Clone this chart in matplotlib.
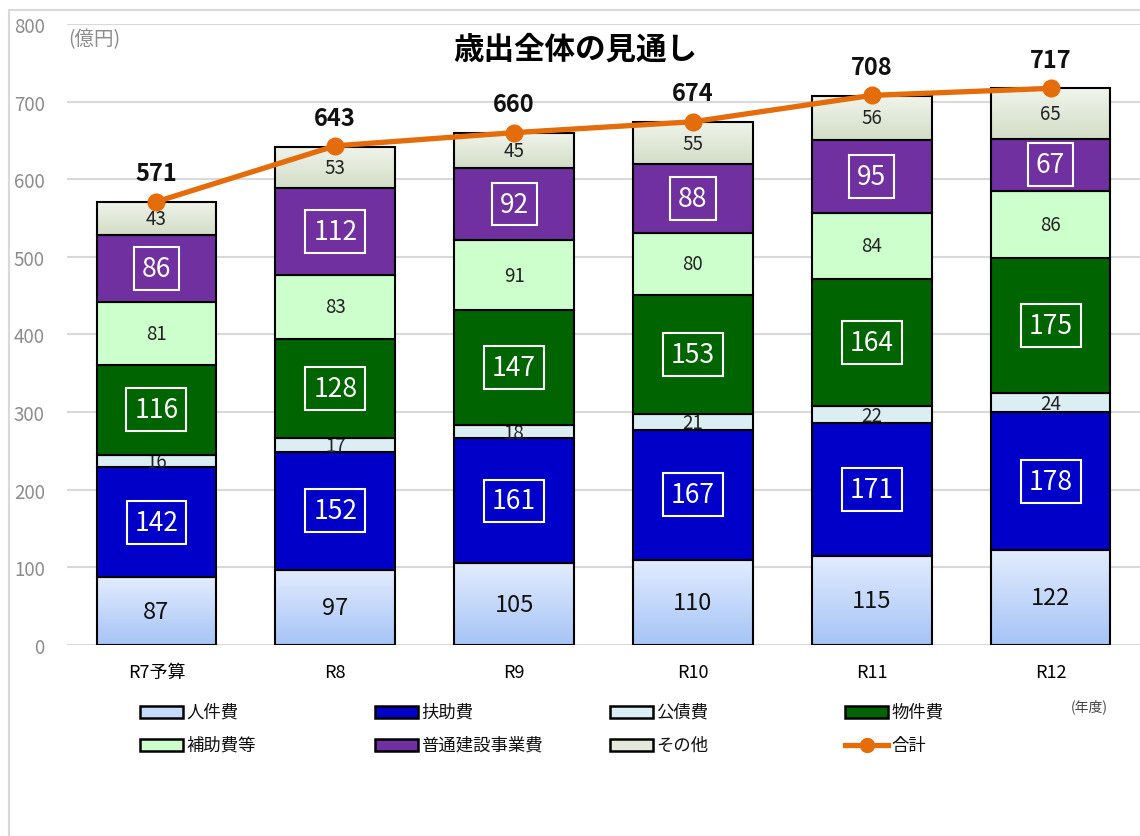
import numpy as np
import matplotlib
matplotlib.use("Agg")
import matplotlib.pyplot as plt
from matplotlib.patches import Rectangle
from matplotlib.colors import LinearSegmentedColormap
from matplotlib.lines import Line2D

plt.rcParams['font.family'] = ['Noto Sans CJK JP', 'DejaVu Sans']

# ---- data (億円) ----
years = ["R7予算", "R8", "R9", "R10", "R11", "R12"]
jinkenhi = [87, 97, 105, 110, 115, 122]          # 人件費
fujohi = [142, 152, 161, 167, 171, 178]          # 扶助費
kousaihi = [16, 17, 18, 21, 22, 24]              # 公債費
bukkenhi = [116, 128, 147, 153, 164, 175]        # 物件費
hojohi = [81, 83, 91, 80, 84, 86]                # 補助費等
kensetsu = [86, 112, 92, 88, 95, 67]             # 普通建設事業費
sonota = [43, 53, 45, 55, 56, 65]                # その他
total = [571, 643, 660, 674, 708, 717]           # 合計

series = [
    ("人件費", jinkenhi, "grad_blue", "plain_big"),
    ("扶助費", fujohi, "#0000C8", "boxed"),
    ("公債費", kousaihi, "#DAEEF3", "clip"),
    ("物件費", bukkenhi, "#006400", "boxed"),
    ("補助費等", hojohi, "#CCFFCC", "plain"),
    ("普通建設事業費", kensetsu, "#7030A0", "boxed"),
    ("その他", sonota, "grad_gray", "plain"),
]
gradients = {
    "grad_blue": ("#E2ECFE", "#A6C4F6"),
    "grad_gray": ("#F0F4EB", "#D2DDC6"),
}
legend_face = {"grad_blue": "#C6DAFB", "grad_gray": "#E2E9DA"}
line_color = "#E46C0A"

W, H = 1140, 837
fig = plt.figure(figsize=(W / 100, H / 100), dpi=100)
ax = fig.add_axes([0.0588, 0.2282, 0.9412, 0.742])

# light frame around chart area
fig.patches.append(Rectangle((0.008, -0.01), 1.1, 0.997, transform=fig.transFigure,
                             fill=False, ec="#D9D9D9", lw=1.5))

x = np.arange(len(years))
width = 0.67
bottom = np.zeros(len(years))
for k, (name, vals, color, style) in enumerate(series):
    vals = np.array(vals, dtype=float)
    z = 2 + k * 0.1
    if color in gradients:
        top_c, bot_c = gradients[color]
        cmap = LinearSegmentedColormap.from_list(name, [bot_c, top_c])
        bars = ax.bar(x, vals, width, bottom=bottom, color="none",
                      edgecolor="black", linewidth=1.5, zorder=z + 0.05)
        for b in bars:
            x0, y0 = b.get_x(), b.get_y()
            w, h = b.get_width(), b.get_height()
            grad = np.linspace(0, 1, 100).reshape(-1, 1)
            im = ax.imshow(grad, cmap=cmap, origin="lower", aspect="auto",
                           extent=(x0, x0 + w, y0, y0 + h), zorder=z,
                           interpolation="bilinear")
            im.set_clip_path(b)
    else:
        bars = ax.bar(x, vals, width, bottom=bottom, color=color,
                      edgecolor="black", linewidth=1.5, zorder=z)
    for b, v, y0 in zip(bars, vals, bottom):
        cx = b.get_x() + b.get_width() / 2
        cy = y0 + v / 2
        if style == "boxed":
            ax.text(cx, cy, f"{int(v)}", ha="center", va="center",
                    color="white", fontsize=19, zorder=10,
                    bbox=dict(boxstyle="square,pad=0.3", fc="none",
                              ec="white", lw=1.5))
        elif style == "plain_big":
            ax.text(cx, cy, f"{int(v)}", ha="center", va="center",
                    color="#111111", fontsize=17, zorder=10)
        elif style == "clip":
            t = ax.text(cx, cy - 1, f"{int(v)}", ha="center", va="center",
                        color="#222222", fontsize=13.5, zorder=z + 0.05)
            t.set_clip_path(b)
        else:
            ax.text(cx, cy, f"{int(v)}", ha="center", va="center",
                    color="#222222", fontsize=13.5, zorder=10)
    bottom += vals

# total line
ax.plot(x, total, color=line_color, lw=3.8, marker="o", markersize=12,
        zorder=12)
for xi, t in zip(x, total):
    ax.text(xi, t + 21, f"{t}", ha="center", va="bottom", fontsize=17,
            fontweight="bold", color="#111111", zorder=13)

ax.set_xlim(-0.5, 5.5)
ax.set_ylim(0, 800)
ax.set_yticks(np.arange(0, 801, 100))
ax.tick_params(axis="y", length=0, pad=16, labelsize=13.5, labelcolor="#8C8C8C")
ax.tick_params(axis="x", length=0, pad=13, labelsize=13)
ax.set_xticks(x)
ax.set_xticklabels(years)
ax.grid(axis="y", color="#D9D9D9", lw=1.5, zorder=0)
ax.set_axisbelow(True)
for s in ax.spines.values():
    s.set_visible(False)

fig.text(68 / W, 1 - 40 / H, "(億円)", ha="left", va="center",
         fontsize=14, color="#8C8C8C")
fig.text(575 / W, 1 - 50 / H, "歳出全体の見通し", ha="center", va="center",
         fontsize=22, fontweight="bold")
fig.text(1089 / W, 1 - 707 / H, "(年度)", ha="center", va="center",
         fontsize=10, color="#444444")

# legend, laid out on a fixed grid (row-major)
labels = [s[0] for s in series] + ["合計"]
col_x = [140, 375, 610, 845]
row_y = [713, 746]
for i, lab in enumerate(labels):
    r, c = divmod(i, 4)
    px, py = col_x[c], row_y[r]
    if i < len(series):
        color = series[i][2]
        fc = legend_face.get(color, color)
        fig.patches.append(Rectangle((px / W, 1 - (py + 6) / H), 43 / W, 12 / H,
                                     transform=fig.transFigure, fc=fc,
                                     ec="black", lw=1.8))
    else:
        fig.lines.append(Line2D([px / W, (px + 43) / W], [1 - py / H, 1 - py / H],
                                transform=fig.transFigure, color=line_color,
                                lw=3.8))
        fig.lines.append(Line2D([(px + 21.5) / W], [1 - py / H],
                                transform=fig.transFigure, color=line_color,
                                marker="o", markersize=10))
    fig.text((px + 46) / W, 1 - py / H, lab, ha="left", va="center",
             fontsize=12.5, color="#111111")

fig.savefig("out.png", dpi=100)
